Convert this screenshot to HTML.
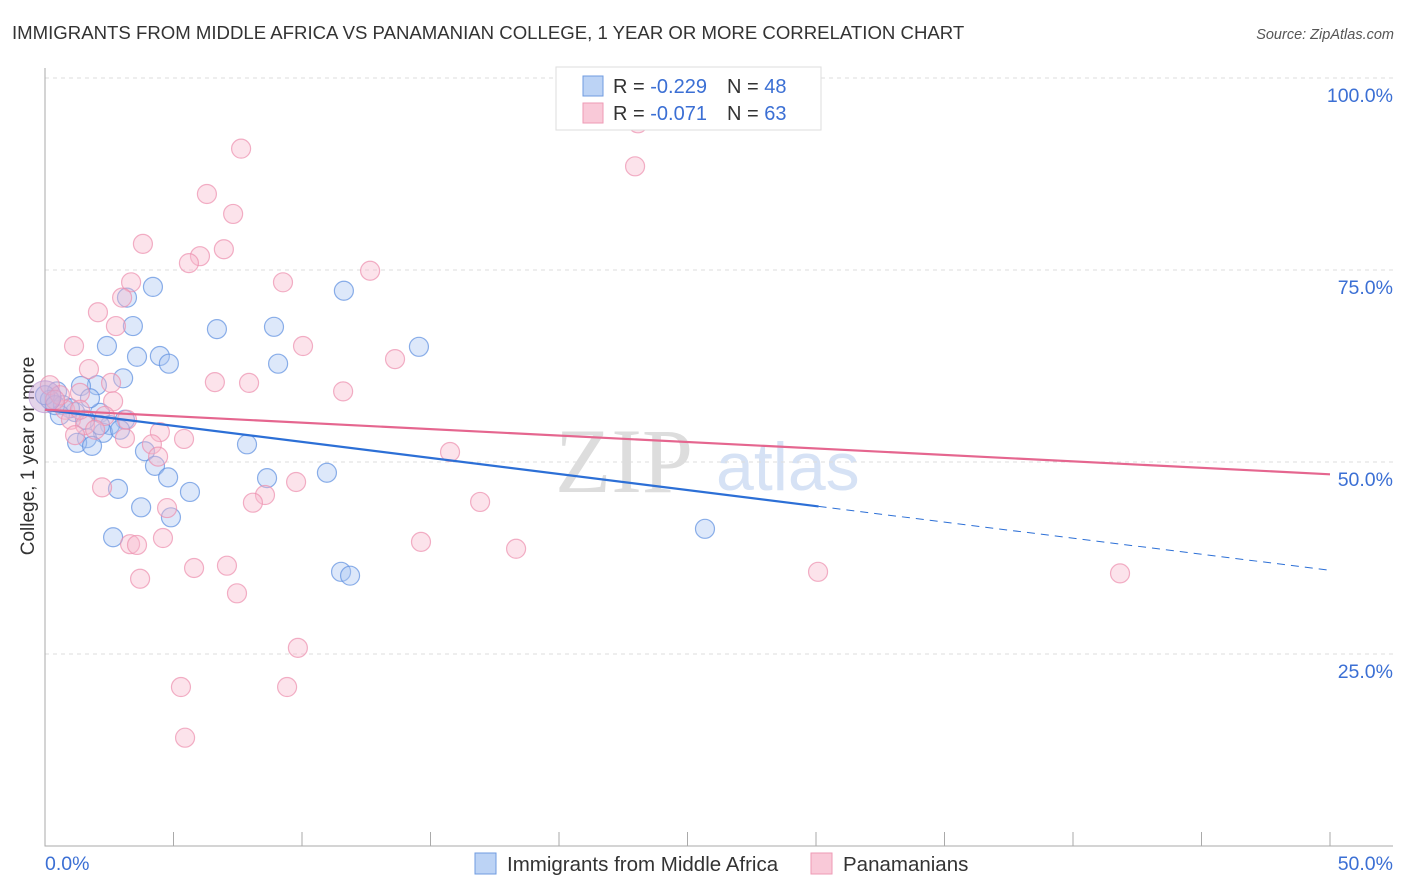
<!DOCTYPE html>
<html><head><meta charset="utf-8"><style>
body{margin:0;background:#fff;font-family:"Liberation Sans",sans-serif;}
svg{display:block}
</style></head><body>
<svg id="chart" width="1406" height="892">
<text x="12" y="39" font-size="18.6" fill="#333">IMMIGRANTS FROM MIDDLE AFRICA VS PANAMANIAN COLLEGE, 1 YEAR OR MORE CORRELATION CHART</text>
<text x="1394" y="39" font-size="14.5" fill="#555" font-style="italic" text-anchor="end">Source: ZipAtlas.com</text>
<text x="34" y="456" font-size="19" fill="#333" text-anchor="middle" transform="rotate(-90 34 456)">College, 1 year or more</text>
<text x="555" y="492" font-size="92" fill="#ddd" font-family="Liberation Serif,serif">ZIP</text>
<text x="716" y="490" font-size="68" fill="#d6e2f5">atlas</text>
<g id="grid"></g><g id="marks"></g><g id="lines"></g>
<g>
<rect x="556" y="67" width="265" height="63" fill="#fff" stroke="#ddd"/>
<rect x="583" y="76" width="20" height="20" fill="#bcd3f5" stroke="#6f9be0"/>
<rect x="583" y="103" width="20" height="20" fill="#f9c9d8" stroke="#ee9ab5"/>
<text x="613" y="93" font-size="20" fill="#333">R = <tspan fill="#3b6fd4">-0.229</tspan><tspan dx="20">N = </tspan><tspan fill="#3b6fd4">48</tspan></text>
<text x="613" y="120" font-size="20" fill="#333">R = <tspan fill="#3b6fd4">-0.071</tspan><tspan dx="20">N = </tspan><tspan fill="#3b6fd4">63</tspan></text>
</g>
<g>
<rect x="475" y="853" width="21" height="21" fill="#bcd3f5" stroke="#6f9be0"/>
<text x="507" y="871" font-size="20.5" fill="#333">Immigrants from Middle Africa</text>
<rect x="811" y="853" width="21" height="21" fill="#f9c9d8" stroke="#ee9ab5"/>
<text x="843" y="871" font-size="20.5" fill="#333">Panamanians</text>
</g>
</svg>
<script>
const blueX=[4.20,3.19,3.42,6.69,8.91,11.63,2.41,3.58,4.47,4.82,9.07,14.55,3.04,2.02,1.40,0.47,0.19,0.70,1.17,2.14,3.11,2.53,2.26,1.63,1.25,1.83,3.89,7.86,4.28,4.79,8.64,10.97,2.84,5.64,3.74,4.90,2.65,11.52,11.87,25.68,0,0.97,1.75,0.58,2.14,2.92,1.56,0.39];
const blueY=[72.8,71.4,67.7,67.3,67.6,72.3,65.1,63.7,63.8,62.8,62.8,65.0,60.9,60.0,59.9,59.2,58.1,57.4,56.5,56.4,55.5,54.8,53.8,53.1,52.5,52.1,51.4,52.3,49.5,48.0,47.9,48.6,46.5,46.1,44.1,42.8,40.2,35.7,35.2,41.3,58.7,57.0,58.3,56.1,54.8,54.2,55.5,57.4];
const pinkX=[7.63,23.07,22.96,6.30,7.32,3.81,6.96,6.03,5.60,12.65,3.35,9.26,3.00,2.06,2.76,1.13,10.04,13.62,1.71,6.61,7.94,2.57,11.60,1.36,2.65,0.78,2.33,3.19,1.01,1.56,4.47,3.11,4.16,5.41,15.76,4.40,2.22,9.77,8.56,8.09,4.75,16.93,14.63,18.33,3.31,3.58,4.59,3.70,5.80,7.08,7.47,30.08,41.83,9.84,5.29,9.42,5.45,0.19,0.58,1.36,1.95,0.39,1.17];
const pinkY=[90.8,94.1,88.5,84.9,82.3,78.4,77.7,76.8,75.9,74.9,73.4,73.4,71.4,69.5,67.7,65.1,65.1,63.4,62.1,60.4,60.3,60.3,59.2,59.0,57.9,56.8,56.0,55.5,55.5,54.8,53.9,53.1,52.3,53.0,51.3,50.7,46.7,47.4,45.7,44.7,44.0,44.8,39.6,38.7,39.3,39.2,40.1,34.8,36.2,36.5,32.9,35.7,35.5,25.8,20.7,20.7,14.1,60.0,58.7,56.8,54.2,58.1,53.5];
const blueTrend=[56.8,35.9]; const blueSolidEnd=30.1;
const pinkTrend=[56.8,48.4];
const yTicks=[100,75,50,25];
const yTickLabels=["100.0%","75.0%","50.0%","25.0%"];
const xTicks=[0,5,10,15,20,25,30,35,40,45,50];
const NS="http://www.w3.org/2000/svg";
const X=v=>45+v/50*1285, Y=v=>846-v/100*768;
function mk(t,a,p){const e=document.createElementNS(NS,t);for(const k in a)e.setAttribute(k,a[k]);p.appendChild(e);return e;}
const grid=document.getElementById('grid'),marks=document.getElementById('marks'),lines=document.getElementById('lines');
yTicks.forEach((t,i)=>{
 const l=mk('line',{x1:45,x2:1393,y1:Y(t),y2:Y(t),stroke:'#ddd','stroke-dasharray':'4,4'},grid);
 
 
 const tx=mk('text',{x:1393,y:Y(t)+24,'font-size':19.5,fill:'#3b6fd4','text-anchor':'end'},grid);
 tx.textContent=yTickLabels[i];
 
 
});
const ax=mk('path',{d:'M45,68V846H1393',stroke:'#aaa',fill:'none'},grid);


xTicks.forEach(t=>{
 const l=mk('line',{x1:X(t),x2:X(t),y1:832,y2:846,stroke:'#aaa'},grid);
 
 
});
[[0,'0.0%','start',45],[50,'50.0%','end',1393]].forEach(d=>{
 const tx=mk('text',{x:d[3],y:870,'font-size':19.5,fill:'#3b6fd4','text-anchor':d[2]},grid);
 tx.textContent=d[1];
 
 
});
function pts(xs,ys,fill,stroke,name){xs.forEach((x,i)=>{
 const c=mk('circle',{cx:X(x),cy:Y(ys[i]),r:9.5,fill:fill,'fill-opacity':0.4,stroke:stroke,'stroke-opacity':0.7,'stroke-width':1.2},marks);
 
 
});}
pts(blueX,blueY,'#a9c6f2','#5d8fe0','point-immigrants');
pts(pinkX,pinkY,'#f7b8cc','#ec8fae','point-panamanians');
const big=mk('circle',{cx:45,cy:Y(58.5),r:16,fill:'#c9a9d5','fill-opacity':0.5,stroke:'#b78fd0','stroke-opacity':0.6},marks);


const bAt=x=>blueTrend[0]+(blueTrend[1]-blueTrend[0])*x/50;
let l1=mk('line',{x1:X(0),y1:Y(bAt(0)),x2:X(blueSolidEnd),y2:Y(bAt(blueSolidEnd)),stroke:'#2c6fd6','stroke-width':2.2},lines);


let l2=mk('line',{x1:X(blueSolidEnd),y1:Y(bAt(blueSolidEnd)),x2:X(50),y2:Y(bAt(50)),stroke:'#2c6fd6','stroke-width':1,'stroke-dasharray':'8,6'},lines);


let l3=mk('line',{x1:X(0),y1:Y(pinkTrend[0]),x2:X(50),y2:Y(pinkTrend[1]),stroke:'#e5668f','stroke-width':2.2},lines);


</script>
</body></html>
